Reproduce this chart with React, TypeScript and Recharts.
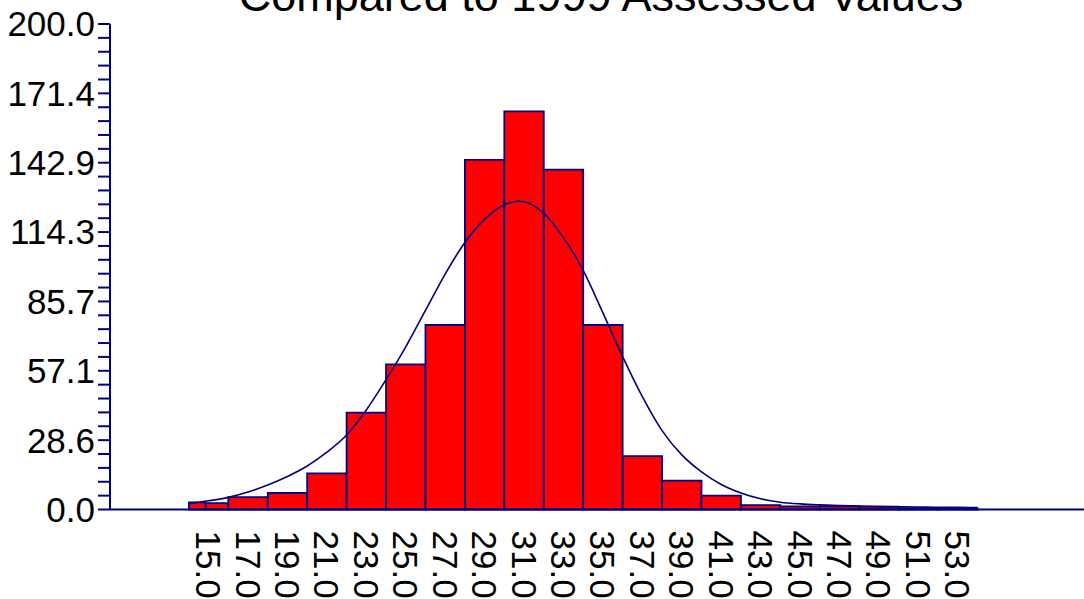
import { ComposedChart, Line, XAxis, YAxis, ReferenceArea } from 'recharts'

const NAVY = '#000080'
const FONT = '"Liberation Sans", Arial, sans-serif'

// histogram bins (edges) and bar heights
const binEdges = [14, 14.85, 16, 18, 20, 22, 24, 26, 28, 30, 32, 34, 36, 38, 40, 42, 44, 46, 48, 50, 52, 54]
const binCounts = [2.9, 2.6, 5.1, 6.8, 14.9, 39.9, 59.8, 76, 144, 164, 140, 76, 22, 11.9, 5.7, 1.8, 1.3, 1.3, 1.2, 0.6, 0.6]

// fitted curve
const curveX = [14, 15, 16, 17, 18, 19, 20, 21, 22, 23, 24, 25, 26, 27, 28, 29, 30, 30.7, 31, 32, 33, 34, 35, 36, 37, 38, 39, 40, 41, 42, 43, 44, 45, 46, 47, 48, 49, 50, 51, 52, 53, 54]
const curveY = [2.5, 3.6, 5.0, 7.2, 10.1, 13.6, 17.9, 23.6, 30.7, 41, 53.5, 67, 82, 97, 110, 119.5, 125.5, 127, 126.8, 122, 112, 98.5, 81, 63, 46.5, 32.5, 22.5, 15.5, 10.3, 6.8, 4.4, 3.0, 2.3, 1.9, 1.6, 1.4, 1.2, 1.1, 1.0, 0.9, 0.9, 0.8]

const xTicks = [15, 17, 19, 21, 23, 25, 27, 29, 31, 33, 35, 37, 39, 41, 43, 45, 47, 49, 51, 53]
const yTicks = [
  0, 5.71, 11.43, 17.14, 22.86, 28.57, 34.29, 40, 45.71, 51.43, 57.14, 62.86, 68.57, 74.29, 80, 85.71,
  91.43, 97.14, 102.86, 108.57, 114.29, 120, 125.71, 131.43, 137.14, 142.86, 148.57, 154.29, 160,
  165.71, 171.43, 177.14, 182.86, 188.57, 194.29, 200,
]
const yMajor = [0, 28.57, 57.14, 85.71, 114.29, 142.86, 171.43, 200]

const curveData = curveX.map((x, i) => ({ x, y: curveY[i] }))

function XTick(props: any) {
  const { x, y, payload } = props
  return (
    <text
      transform={`translate(${x},${y}) rotate(90)`}
      x={0}
      y={12.5}
      textAnchor="start"
      fontSize={35}
      fontFamily={FONT}
      fill="#000"
    >
      {Number(payload.value).toFixed(1)}
    </text>
  )
}

export default function App() {
  return (
    <div style={{ position: 'absolute', left: 0, top: 0, width: 1084, height: 599, background: '#fff' }}>
      <ComposedChart
        width={1084}
        height={599}
        data={curveData}
        margin={{ top: 24, right: 0, bottom: 0, left: 0 }}
      >
        <XAxis
          dataKey="x"
          type="number"
          domain={[10, 59.4]}
          allowDataOverflow
          ticks={xTicks}
          interval={0}
          height={89.5}
          tickSize={0}
          tickMargin={21}
          tickLine={false}
          axisLine={{ stroke: NAVY, strokeWidth: 2 }}
          tick={<XTick />}
        />
        <YAxis
          type="number"
          domain={[0, 200]}
          ticks={yTicks}
          interval={0}
          width={110}
          tickSize={12}
          tickMargin={3}
          tickLine={{ stroke: NAVY, strokeWidth: 2 }}
          axisLine={{ stroke: NAVY, strokeWidth: 2 }}
          tick={{ fill: '#000', fontSize: 35, fontFamily: FONT }}
          tickFormatter={(v: number) => (yMajor.includes(v) ? v.toFixed(1) : '')}
        />
        {binCounts.map((c, i) => (
          <ReferenceArea
            key={`bin-${i}`}
            x1={binEdges[i]}
            x2={binEdges[i + 1]}
            y1={0}
            y2={c}
            fill="#ff0000"
            fillOpacity={1}
            stroke={NAVY}
            strokeWidth={1.8}
          />
        ))}
        <Line
          dataKey="y"
          type="monotone"
          stroke={NAVY}
          strokeWidth={1.6}
          dot={false}
          activeDot={false}
          isAnimationActive={false}
        />
      </ComposedChart>
      <svg
        width={1084}
        height={60}
        style={{ position: 'absolute', left: 0, top: 0, pointerEvents: 'none' }}
      >
        <text x={601} y={11} textAnchor="middle" fontSize={45} fontFamily={FONT} fill="#000">
          Compared to 1999 Assessed Values
        </text>
      </svg>
    </div>
  )
}
